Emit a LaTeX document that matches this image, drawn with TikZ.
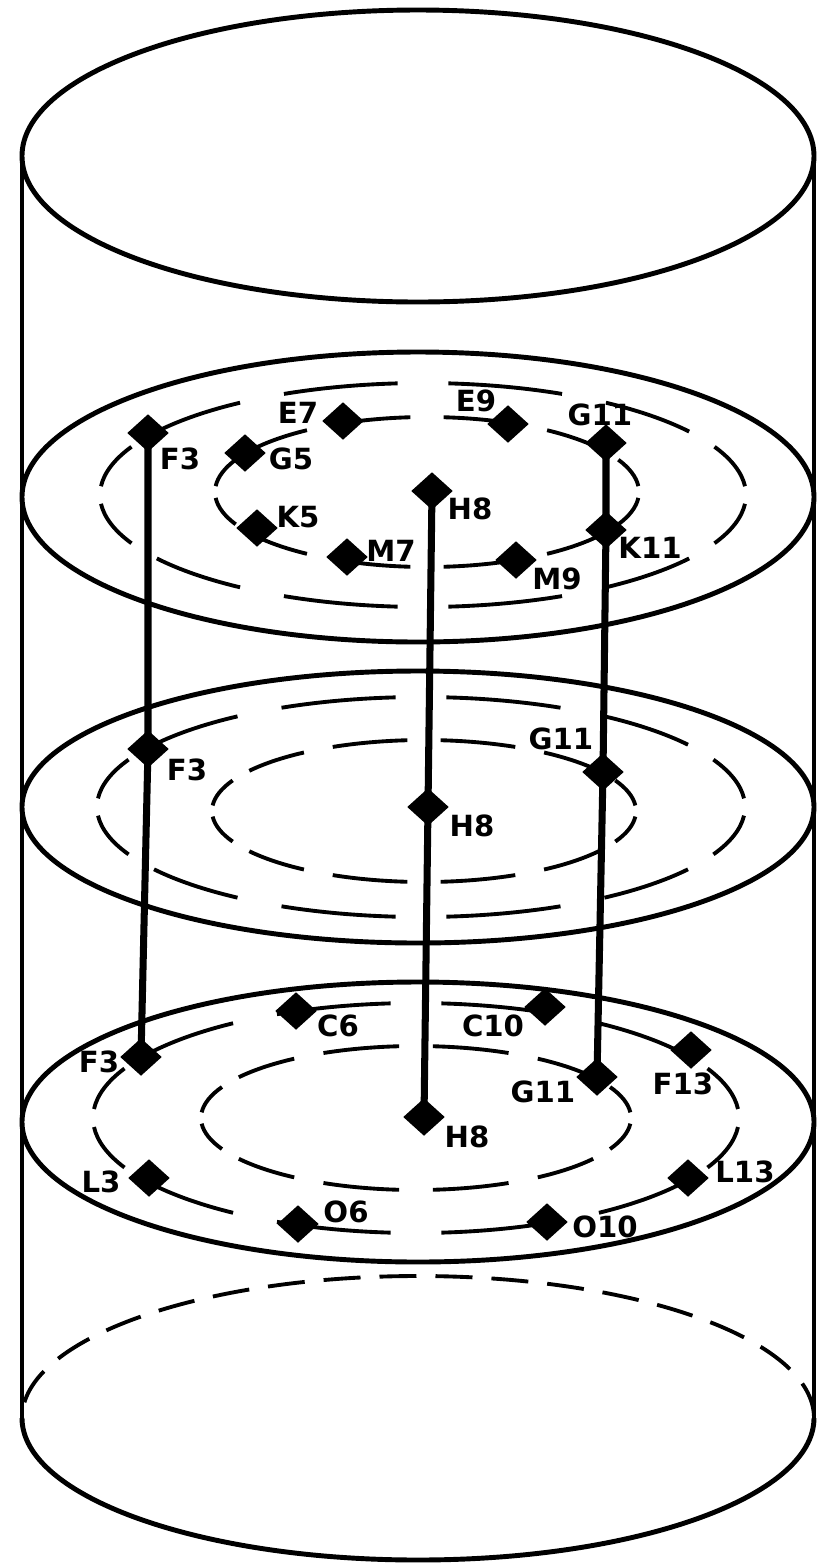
\documentclass[tikz,border=0pt]{standalone}
\usepackage{fontspec}
\setmainfont{DejaVu Sans}
\usetikzlibrary{shapes.geometric}

\begin{document}
\begin{tikzpicture}[
    pin/.style={diamond, fill=black, inner sep=0pt, minimum width=0.42cm, minimum height=0.38cm},
    tag/.style={font=\fontsize{8.3}{9}\selectfont\bfseries, inner sep=0pt},
    rim/.style={line width=1.4pt},
    wall/.style={line width=1.1pt},
    ring/.style={line width=1.1pt},
    rod/.style={line width=2pt},
]
\useasboundingbox (0,0) rectangle (8.21,-15.64);

% Cylinder
\draw[rim] (4.18,-1.56) ellipse (3.96 and 1.46);
\draw[wall] (0.22,-1.56) -- (0.22,-14.18);
\draw[wall] (8.14,-1.56) -- (8.14,-14.18);
\draw[rim] (0.22,-14.18) arc[start angle=180, end angle=360, x radius=3.96, y radius=1.42];
\draw[wall, dash pattern=on 0.37cm off 0.19cm] (8.14,-14.18) arc[start angle=0, end angle=180, x radius=3.96, y radius=1.42];

% Discs
\draw[rim] (4.18,-4.97) ellipse (3.96 and 1.45);
\draw[rim] (4.18,-8.07) ellipse (3.96 and 1.36);
\draw[rim] (4.18,-11.22) ellipse (3.96 and 1.40);

% Dashed rings
\foreach \cx/\cy/\rx/\ry in {4.23/-4.95/3.23/1.12, 4.27/-4.92/2.12/0.75,
                             4.21/-8.07/3.24/1.10, 4.24/-8.11/2.12/0.71,
                             4.16/-11.18/3.23/1.15, 4.16/-11.18/2.15/0.72} {
    \foreach \a in {0,30,...,330} {
        \draw[ring] (\cx,\cy) ++({\rx*cos(\a+4.5)},{\ry*sin(\a+4.5)})
            arc[start angle=\a+4.5, end angle=\a+25.5, x radius=\rx, y radius=\ry];
    }
}

% Top disc
\node[pin] (tF3) at (1.48,-4.33) {};
\node[pin] (tE7) at (3.43,-4.21) {};
\node[pin] (tE9) at (5.08,-4.24) {};
\node[pin] (tG11) at (6.06,-4.43) {};
\node[pin] (tG5) at (2.45,-4.53) {};
\node[pin] (tH8) at (4.32,-4.91) {};
\node[pin] (tK5) at (2.57,-5.28) {};
\node[pin] (tM7) at (3.47,-5.57) {};
\node[pin] (tM9) at (5.16,-5.60) {};
\node[pin] (tK11) at (6.06,-5.30) {};

\node[tag] (tF3t) at (1.80,-4.59) {F3};
\node[tag] (tE7t) at (2.98,-4.13) {E7};
\node[tag] (tE9t) at (4.76,-4.01) {E9};
\node[tag] (tG11t) at (6.00,-4.15) {G11};
\node[tag] (tG5t) at (2.91,-4.59) {G5};
\node[tag] (tH8t) at (4.70,-5.09) {H8};
\node[tag] (tK5t) at (2.98,-5.17) {K5};
\node[tag] (tM7t) at (3.91,-5.51) {M7};
\node[tag] (tM9t) at (5.57,-5.79) {M9};
\node[tag] (tK11t) at (6.50,-5.48) {K11};

% Middle disc
\node[pin] (mF3) at (1.48,-7.49) {};
\node[pin] (mH8) at (4.28,-8.07) {};
\node[pin] (mG11) at (6.03,-7.72) {};

\node[tag] (mF3t) at (1.87,-7.70) {F3};
\node[tag] (mH8t) at (4.72,-8.26) {H8};
\node[tag] (mG11t) at (5.61,-7.39) {G11};

% Bottom disc
\node[pin] (bF3) at (1.41,-10.57) {};
\node[pin] (bC6) at (2.96,-10.11) {};
\node[pin] (bC10) at (5.45,-10.07) {};
\node[pin] (bF13) at (6.91,-10.50) {};
\node[pin] (bG11) at (5.97,-10.77) {};
\node[pin] (bH8) at (4.24,-11.17) {};
\node[pin] (bL3) at (1.49,-11.78) {};
\node[pin] (bL13) at (6.88,-11.78) {};
\node[pin] (bO6) at (2.98,-12.24) {};
\node[pin] (bO10) at (5.47,-12.22) {};

\node[tag] (bF3t) at (0.99,-10.62) {F3};
\node[tag] (bC6t) at (3.38,-10.26) {C6};
\node[tag] (bC10t) at (4.93,-10.26) {C10};
\node[tag] (bF13t) at (6.83,-10.84) {F13};
\node[tag] (bG11t) at (5.43,-10.92) {G11};
\node[tag] (bH8t) at (4.67,-11.37) {H8};
\node[tag] (bL3t) at (1.01,-11.82) {L3};
\node[tag] (bL13t) at (7.45,-11.72) {L13};
\node[tag] (bO6t) at (3.46,-12.12) {O6};
\node[tag] (bO10t) at (6.05,-12.27) {O10};

% Rods
\draw[rod] (tF3.center) -- (mF3.center) -- (bF3.center);
\draw[rod] (tH8.center) -- (mH8.center) -- (bH8.center);
\draw[rod] (tG11.center) -- (tK11.center) -- (mG11.center) -- (bG11.center);

\end{tikzpicture}
\end{document}
